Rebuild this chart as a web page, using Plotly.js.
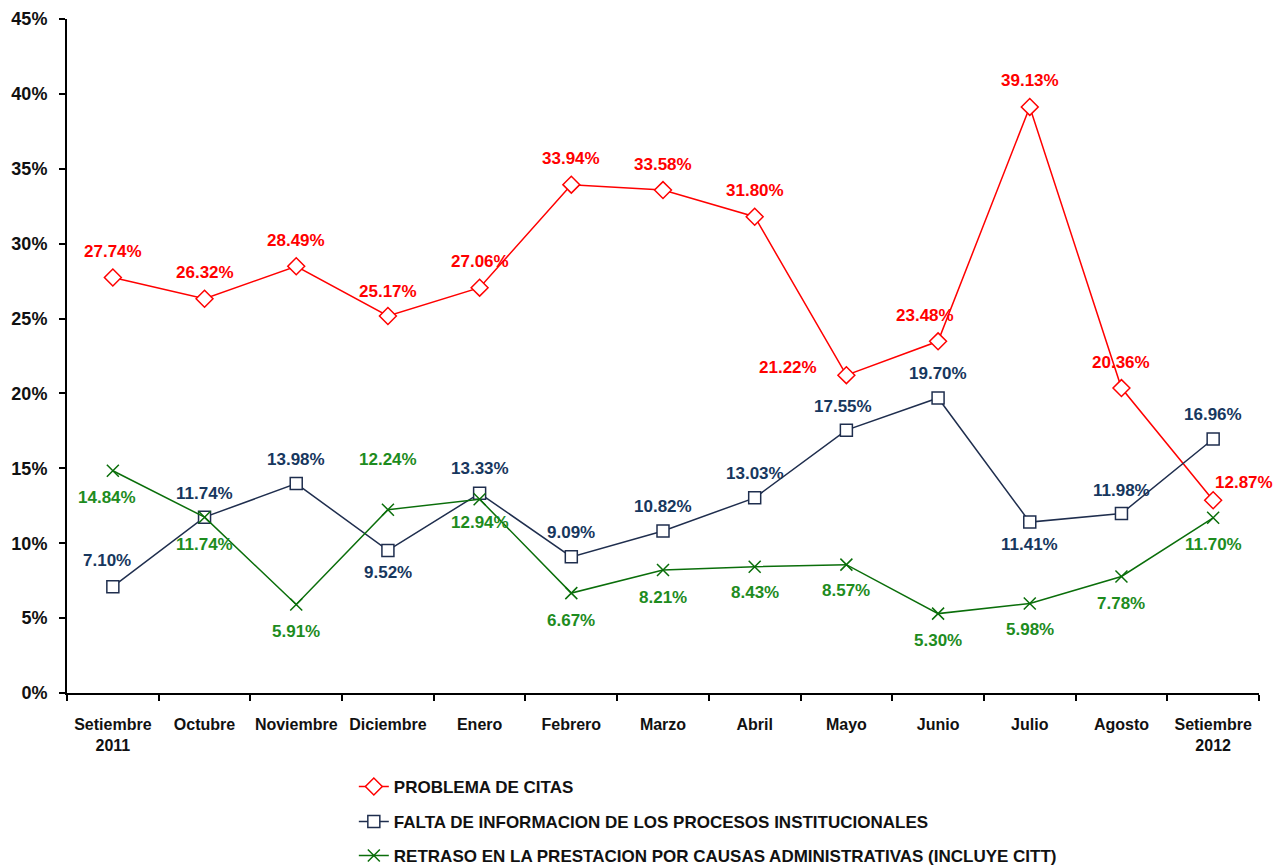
<!DOCTYPE html>
<html>
<head>
<meta charset="utf-8">
<script src="https://cdn.plot.ly/plotly-3.0.1.min.js"></script>
<style>html,body{margin:0;padding:0;background:#fff;}#chart{width:1282px;height:865px;}</style>
</head>
<body>
<div id="chart"></div>
<script>
// ---- data ----
const categories = ["Setiembre<br>2011","Octubre","Noviembre","Diciembre","Enero","Febrero","Marzo","Abril","Mayo","Junio","Julio","Agosto","Setiembre<br>2012"];
const seriesNames = ["PROBLEMA DE CITAS","FALTA DE INFORMACION DE LOS PROCESOS INSTITUCIONALES","RETRASO EN LA PRESTACION POR CAUSAS ADMINISTRATIVAS (INCLUYE CITT)"];
const problemaCitas = [27.74,26.32,28.49,25.17,27.06,33.94,33.58,31.80,21.22,23.48,39.13,20.36,12.87];
const faltaInformacion = [7.10,11.74,13.98,9.52,13.33,9.09,10.82,13.03,17.55,19.70,11.41,11.98,16.96];
const retrasoPrestacion = [14.84,11.74,5.91,12.24,12.94,6.67,8.21,8.43,8.57,5.30,5.98,7.78,11.70];
const yTicks = [0,5,10,15,20,25,30,35,40,45];

// ---- label placement (pixel offsets: [dx, dy up]) ----
const shiftRed = [[0,26],[0,26],[0,26],[0,25],[0,26],[0,26],[0,26],[0,26],[-58,8],[-13,26],[0,26],[0,26],[31,18]];
const shiftNavy = [[-6,26],[0,24],[0,24],[0,-22],[0,25],[0,24],[0,24],[0,24],[-3,24],[0,24],[0,-22],[0,23],[0,24]];
const shiftGreen = [[-6,-27],[0,-27],[0,-27],[0,50],[0,-23],[0,-27],[0,-27],[0,-26],[0,-26],[0,-27],[0,-26],[0,-27],[0,-27]];

const FONT = "Liberation Sans, Arial, sans-serif";
const red = "#FF0000", navyLine = "#1F2E4E", navyText = "#17375E", greenLine = "#0A6E0A", greenText = "#1E8C1E";

const traces = [
  {x: categories, y: problemaCitas, name: seriesNames[0], type: "scatter", mode: "lines+markers",
   line: {color: red, width: 1.5}, marker: {symbol: "diamond", size: 13, color: "#fff", line: {color: red, width: 1.5}}, legend: "legend"},
  {x: categories, y: faltaInformacion, name: seriesNames[1], type: "scatter", mode: "lines+markers",
   line: {color: navyLine, width: 1.5}, marker: {symbol: "square", size: 12, color: "#fff", line: {color: navyLine, width: 1.5}}, legend: "legend2"},
  {x: categories, y: retrasoPrestacion, name: seriesNames[2], type: "scatter", mode: "lines+markers",
   line: {color: greenLine, width: 1.5}, marker: {symbol: "x-thin-open", size: 12, color: greenLine, line: {color: greenLine, width: 1.5}}, legend: "legend3"}
];

const annotations = [];
function addLabels(vals, shifts, color) {
  vals.forEach((v, i) => {
    annotations.push({x: categories[i], y: v, xref: "x", yref: "y", text: v.toFixed(2) + "%", showarrow: false,
      xshift: shifts[i][0], yshift: shifts[i][1], font: {family: FONT, size: 17, color: color, weight: "bold"}});
  });
}
addLabels(problemaCitas, shiftRed, red);
addLabels(faltaInformacion, shiftNavy, navyText);
addLabels(retrasoPrestacion, shiftGreen, greenText);

const legendBase = {orientation: "v", xref: "container", yref: "container", xanchor: "left", yanchor: "middle", x: 0.276,
  bgcolor: "rgba(0,0,0,0)", font: {family: FONT, size: 17, color: "#111", weight: "bold"}, itemwidth: 30, itemclick: false};

const layout = {
  width: 1282, height: 865,
  margin: {l: 67, r: 23, t: 19, b: 172, autoexpand: false},
  paper_bgcolor: "#fff", plot_bgcolor: "#fff",
  showlegend: true,
  font: {family: FONT, color: "#111"},
  xaxis: {type: "category", range: [-0.5, 12.5], automargin: false, tickangle: 0, showgrid: false, zeroline: false, showline: true, linecolor: "#000", linewidth: 2,
    ticks: "outside", tickson: "boundaries", ticklen: 6, tickwidth: 2, tickcolor: "#000",
    tickfont: {family: FONT, size: 16, color: "#111", weight: "bold"}, ticklabelstandoff: 16},
  yaxis: {range: [0, 45], automargin: false, tickvals: yTicks, ticktext: yTicks.map(t => t + "%"), showgrid: false, zeroline: false,
    showline: true, linecolor: "#000", linewidth: 2, ticks: "outside", ticklen: 6, tickwidth: 2, tickcolor: "#000",
    tickfont: {family: FONT, size: 18, color: "#111", weight: "bold"}, ticklabelstandoff: 8},
  legend: Object.assign({}, legendBase, {y: 0.0902}),
  legend2: Object.assign({}, legendBase, {y: 0.0497}),
  legend3: Object.assign({}, legendBase, {y: 0.0104}),
  annotations: annotations
};

Plotly.newPlot("chart", traces, layout, {displayModeBar: false, staticPlot: true});
</script>
</body>
</html>
